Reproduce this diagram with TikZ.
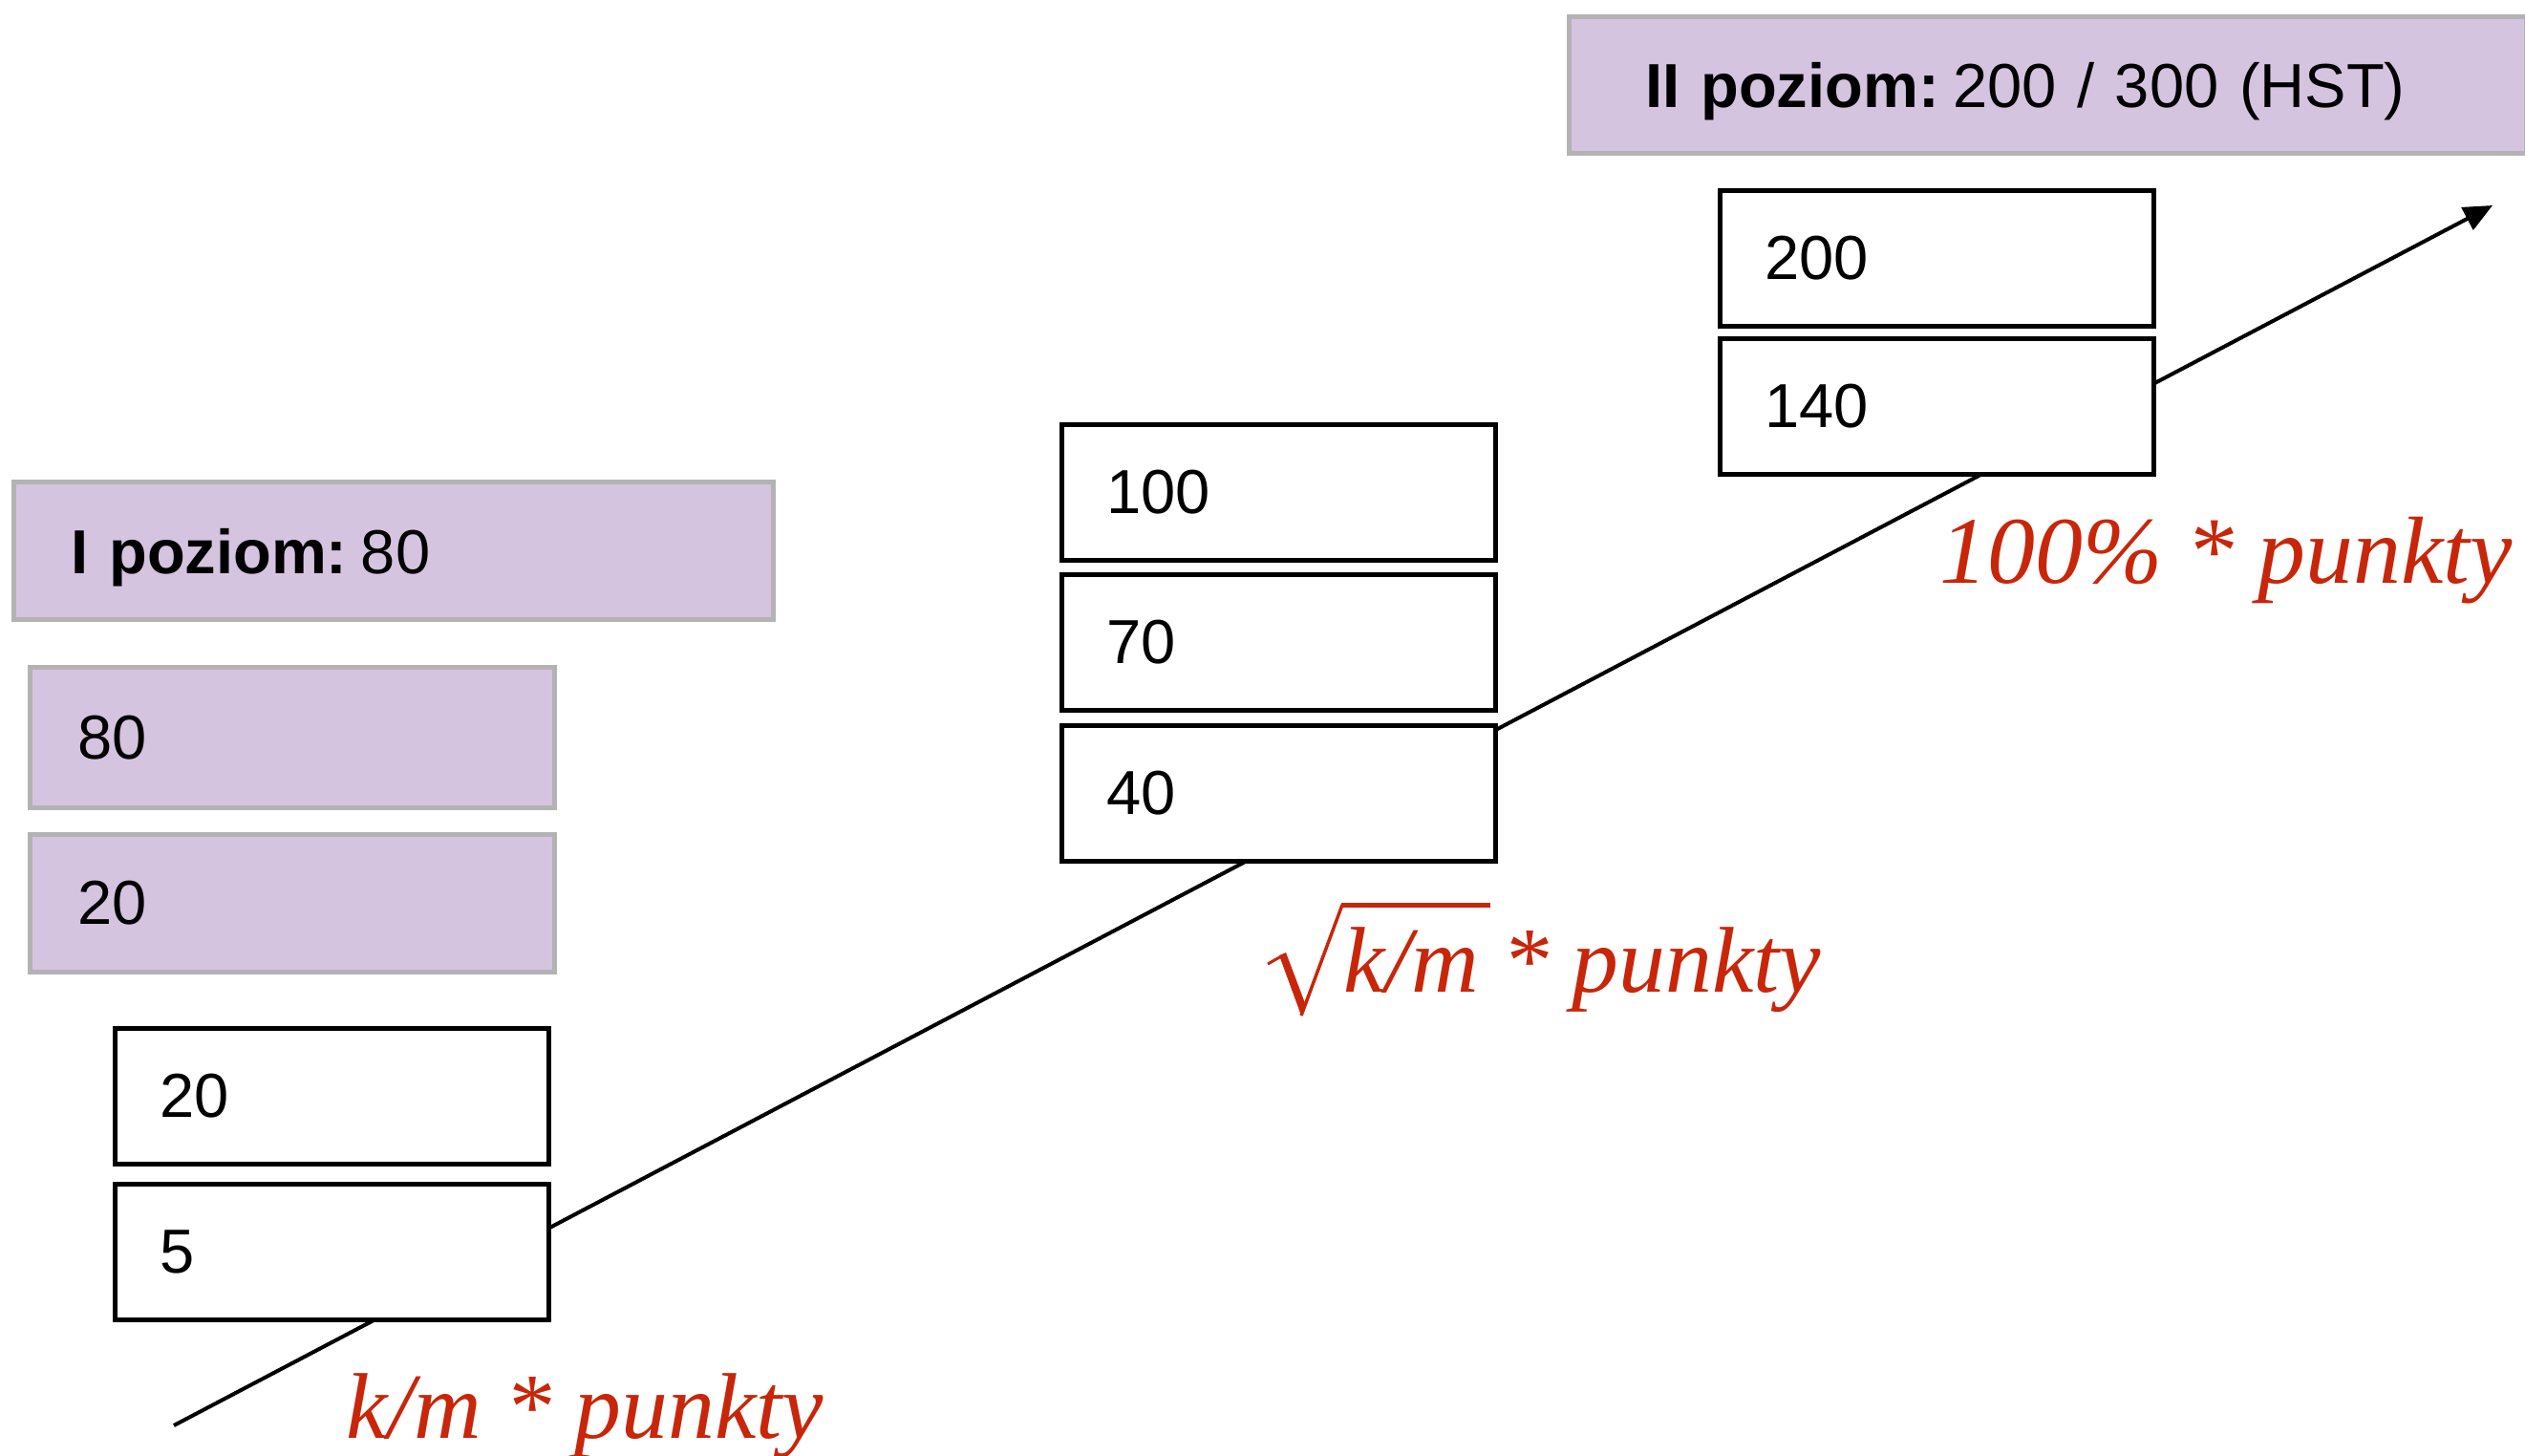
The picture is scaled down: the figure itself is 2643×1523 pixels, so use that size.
\documentclass[tikz,border=0pt]{standalone}
\usepackage{fontspec}
\setmainfont{Liberation Sans}
\newfontfamily\serifit{Liberation Serif}
\usetikzlibrary{arrows.meta}
\definecolor{lilac}{HTML}{D5C4DF}
\definecolor{greyline}{HTML}{B3B3B3}
\definecolor{redlbl}{HTML}{C8260A}
\newcommand\boxfont{\fontsize{18.5}{22}\selectfont}
\newcommand\lblfont{\serifit\itshape\fontsize{27.8}{32}\selectfont}
\tikzset{
  valbox/.style={draw=black, line width=0.05cm, fill=white, anchor=north west,
    inner xsep=0.47cm, inner ysep=0pt, align=left, font=\boxfont,
    text width=3.60cm, minimum height=1.42cm},
  lilbox/.style={draw=greyline, line width=0.05cm, fill=lilac, anchor=north west,
    inner ysep=0pt, align=left, font=\boxfont},
  headbox/.style={lilbox, text depth=0pt},
  redlabel/.style={text=redlbl, anchor=base west, inner sep=0pt, font=\lblfont},
  radical/.style={draw=redlbl, line join=miter, line cap=butt},
  axis/.style={draw=black, line width=0.04cm, -{Triangle[length=0.3cm,width=0.26cm]}}
}
\begin{document}
\begin{tikzpicture}[x=0.01cm, y=-0.01cm]
\useasboundingbox (0,0) rectangle (2643,1523);
% main axis line (runs behind the value boxes)
\coordinate (start) at (182,1492);
\coordinate (end) at (2609,215);
\draw[axis] (start) -- (end);
% level headers
\node[headbox, inner xsep=0.6cm, text width=6.75cm, minimum height=1.44cm] (lvl1) at (12,502) {\textbf{I poziom:}\hspace{0.22em}80};
\node[headbox, inner xsep=0.8cm, text width=8.41cm, minimum height=1.43cm] (lvl2) at (1640,15) {\textbf{II poziom:}\hspace{0.22em}200 / 300 (HST)};
% lilac value boxes
\node[lilbox, inner xsep=0.5cm, text width=4.49cm, minimum height=1.47cm] (p80) at (29,696) {80};
\node[lilbox, inner xsep=0.5cm, text width=4.49cm, minimum height=1.44cm] (p20) at (29,871) {20};
% white value boxes
\node[valbox] (b20) at (118,1074) {20};
\node[valbox] (b5) at (118,1237) {5};
\node[valbox] (b100) at (1109,442) {100};
\node[valbox] (b70) at (1109,599) {70};
\node[valbox] (b40) at (1109,757) {40};
\node[valbox] (b200) at (1798,197) {200};
\node[valbox] (b140) at (1798,352) {140};
% red formulas
\node[redlabel] (f1) at (362,1505) {k/m * punkty};
\node[redlabel] (f2) at (1406,1038) {k/m * punkty};
% square-root sign over k/m
\draw[radical, line width=0.03cm] (1327,1009) -- (1341,1001);
\fill[redlbl] (1339,1000) -- (1346,997) -- (1366,1050) -- (1362,1063) -- cycle;
\draw[radical, line width=0.035cm] (1362,1063) -- (1405,947);
\draw[radical, line width=0.05cm] (1404,947) -- (1560,947);
\node[redlabel, font=\serifit\itshape\fontsize{28.4}{32}\selectfont] (f3) at (2030,610) {100\% * punkty};
\end{tikzpicture}
\end{document}
